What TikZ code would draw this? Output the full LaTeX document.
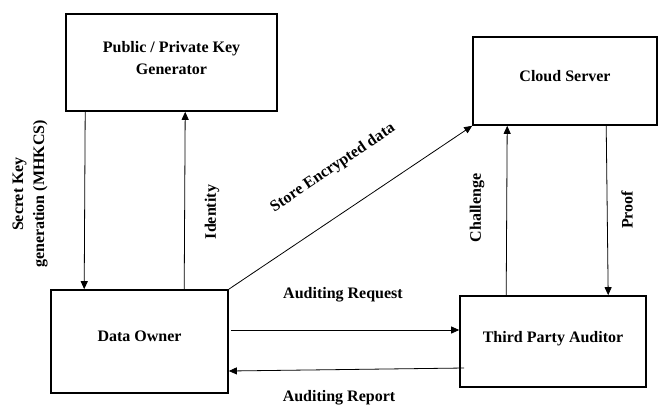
\documentclass[tikz,border=0pt]{standalone}
\usepackage{fontspec}
\setmainfont{Liberation Serif}
\usetikzlibrary{arrows.meta}

\tikzset{
  block/.style={draw,line width=1.6pt,align=center,font=\fontsize{16}{22}\selectfont\bfseries,text depth=10pt},
  flow/.style={line width=0.8pt,-{Triangle[length=8pt,width=7pt]}},
  lbl/.style={font=\fontsize{16}{21}\selectfont\bfseries,align=center}
}

\begin{document}
\begin{tikzpicture}[x=1pt,y=-1pt]
\useasboundingbox (0,0) rectangle (660,408);

% Blocks
\node[block,minimum width=211pt,minimum height=97pt] (keygen) at (171.5,62.5) {Public / Private Key\\Generator};
\node[block,minimum width=184pt,minimum height=88pt] (cloud) at (565,81) {Cloud Server};
\node[block,minimum width=177pt,minimum height=103pt] (owner) at (139.5,341.5) {Data Owner};
\node[block,minimum width=186pt,minimum height=91pt] (tpa) at (553,341.5) {Third Party Auditor};

% Connectors
\draw[flow] ([xshift=20pt]keygen.south west) -- ([xshift=34pt]owner.north west);
\draw[flow] ([xshift=134pt]owner.north west) -- ([xshift=120pt]keygen.south west);
\draw[flow] (owner.north east) -- (cloud.south west);
\draw[flow] ([xshift=47pt]tpa.north west) -- ([xshift=35pt]cloud.south west);
\draw[flow] ([xshift=134pt]cloud.south west) -- ([xshift=149pt]tpa.north west);
\draw[flow] ([xshift=2pt,yshift=11.5pt]owner.east) -- ([yshift=11.5pt]tpa.west);
\draw[flow] ([xshift=5pt,yshift=-26.5pt]tpa.west) -- ([yshift=-29.5pt]owner.east);

% Labels
\node[lbl,rotate=90] (secret) at (30,194) {Secret Key\\generation (MHKCS)};
\node[lbl,rotate=90] (identity) at (212,212) {Identity};
\node[lbl,rotate=34] (store) at (333,168) {Store Encrypted data};
\node[lbl,rotate=90] (challenge) at (477,208) {Challenge};
\node[lbl,rotate=90] (proof) at (627,210) {Proof};
\node[lbl] (request) at (343,295) {Auditing Request};
\node[lbl] (report) at (339,398) {Auditing Report};
\end{tikzpicture}
\end{document}
